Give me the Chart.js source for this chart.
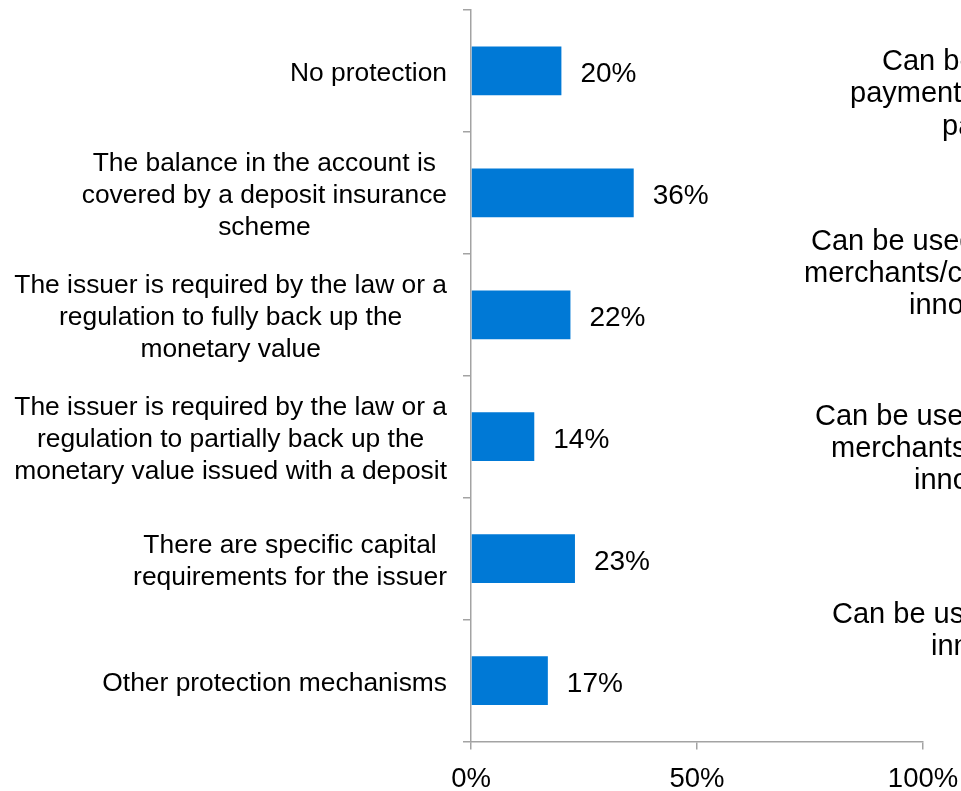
<!DOCTYPE html>
<html>
<head>
<meta charset="utf-8">
<script src="https://cdn.jsdelivr.net/npm/chart.js@4/dist/chart.umd.min.js"></script>
<style>
    html, body { margin: 0; padding: 0; background: #fff; overflow: hidden; }
    #wrap { position: relative; width: 961px; height: 791px; }
</style>
</head>
<body>
<div id="wrap"><canvas id="protection-chart"></canvas></div>
<script>
// категории (по строкам, как на картинке)
const categories = [
    ['No protection'],
    ['The balance in the account is', 'covered by a deposit insurance', 'scheme'],
    ['The issuer is required by the law or a', 'regulation to fully back up the', 'monetary value'],
    ['The issuer is required by the law or a', 'regulation to partially back up the', 'monetary value issued with a deposit'],
    ['There are specific capital', 'requirements for the issuer'],
    ['Other protection mechanisms']
];
const shares = [20, 36, 22, 14, 23, 17];
const xTicks = [0, 50, 100];

// текст соседнего графика, обрезанный правым краем
const sideLabels = [
    ['Can be', 'payment', 'pa'],
    ['Can be used', 'merchants/c', 'inno'],
    ['Can be used', 'merchants', 'inno'],
    ['Can be used', 'inno']
];
const sidePositions = [
    [[882, 70], [850, 102], [942, 135]],
    [[811, 250], [804, 282], [909, 314]],
    [[815, 425], [831, 457], [914, 489]],
    [[832, 623], [931, 655]]
];

const FONT_FAMILY = "'Liberation Sans', Arial, sans-serif";
const AXIS_COLOR = '#a3a3a3';

const categoryLabels = {
    id: 'categoryLabels',
    afterDraw(chart) {
        const ctx = chart.ctx;
        const yScale = chart.scales.y;
        const right = chart.chartArea.left - 24;
        ctx.save();
        ctx.font = '26.4px ' + FONT_FAMILY;
        ctx.fillStyle = '#000';
        ctx.textAlign = 'center';
        ctx.textBaseline = 'middle';
        categories.forEach((lines, i) => {
            const blockWidth = Math.max(...lines.map(l => ctx.measureText(l).width));
            const cx = right - blockWidth / 2;
            const cy = yScale.getPixelForValue(i);
            lines.forEach((line, j) => {
                ctx.fillText(line, cx, cy + (j - (lines.length - 1) / 2) * 32 + 3);
            });
        });

        // обрезанные подписи справа
        ctx.font = '29px ' + FONT_FAMILY;
        ctx.textAlign = 'left';
        ctx.textBaseline = 'alphabetic';
        sideLabels.forEach((lines, i) => {
            lines.forEach((line, j) => {
                const [x, y] = sidePositions[i][j];
                ctx.fillText(line, x, y);
            });
        });
        ctx.restore();
    }
};

const valueLabels = {
    id: 'valueLabels',
    afterDatasetsDraw(chart) {
        const ctx = chart.ctx;
        const meta = chart.getDatasetMeta(0);
        ctx.save();
        ctx.font = '28px ' + FONT_FAMILY;
        ctx.fillStyle = '#000';
        ctx.textAlign = 'left';
        ctx.textBaseline = 'middle';
        meta.data.forEach((bar, i) => {
            ctx.fillText(shares[i] + '%', bar.x + 19, bar.y + 3.5);
        });
        ctx.restore();
    }
};

const ctx = document.getElementById('protection-chart').getContext('2d');
new Chart(ctx, {
    type: 'bar',
    data: {
        labels: categories.map(c => c.join(' ')),
        datasets: [{
            data: shares,
            backgroundColor: '#0079d6',
            borderWidth: 0,
            barPercentage: 0.4,
            categoryPercentage: 1
        }]
    },
    options: {
        indexAxis: 'y',
        responsive: true,
        maintainAspectRatio: false,
        animation: false,
        layout: {
            padding: { left: 463, right: 38, top: 10, bottom: 0 }
        },
        scales: {
            x: {
                min: 0,
                max: 100,
                afterBuildTicks: scale => {
                    scale.ticks = xTicks.map(v => ({ value: v }));
                },
                afterFit: scale => {
                    // подписи могут выходить за область графика
                    scale.paddingLeft = 0;
                    scale.paddingRight = 0;
                    scale.height = 49.5;
                },
                ticks: {
                    color: '#000',
                    padding: 16,
                    maxRotation: 0,
                    font: { family: FONT_FAMILY, size: 27.5, lineHeight: 1 },
                    callback: v => v + '%'
                },
                grid: {
                    drawOnChartArea: false,
                    drawTicks: true,
                    tickLength: 8,
                    color: AXIS_COLOR,
                    lineWidth: 1.5
                },
                border: { color: AXIS_COLOR, width: 1.5 }
            },
            y: {
                afterFit: scale => {
                    scale.paddingTop = 0;
                    scale.paddingBottom = 0;
                    scale.width = 8;
                },
                ticks: { display: false },
                grid: {
                    drawOnChartArea: false,
                    drawTicks: true,
                    tickLength: 8,
                    color: AXIS_COLOR,
                    lineWidth: 1.5
                },
                border: { color: AXIS_COLOR, width: 1.5 }
            }
        },
        plugins: {
            legend: { display: false },
            tooltip: { enabled: false },
            title: { display: false }
        }
    },
    plugins: [categoryLabels, valueLabels]
});
</script>
</body>
</html>
